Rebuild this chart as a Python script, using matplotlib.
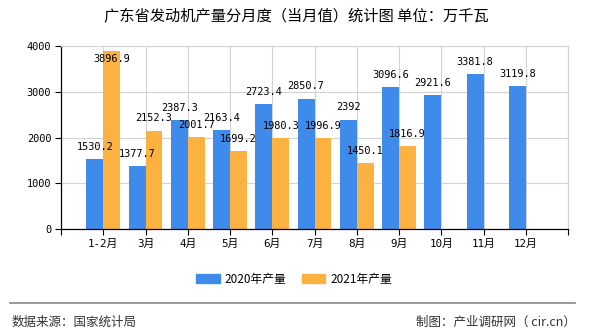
import numpy as np
import matplotlib
matplotlib.use("Agg")
import matplotlib.pyplot as plt
from matplotlib.patches import Patch

plt.rcParams['font.family'] = ['DejaVu Sans Mono', 'Noto Sans CJK SC']

# chart data
months = ['1-2月', '3月', '4月', '5月', '6月', '7月', '8月', '9月', '10月', '11月', '12月']
output_2020 = [1530.2, 1377.7, 2387.3, 2163.4, 2723.4, 2850.7, 2392, 3096.6, 2921.6, 3381.8, 3119.8]
output_2021 = [3896.9, 2152.3, 2001.7, 1699.2, 1980.3, 1996.9, 1450.1, 1816.9]
series_names = ['2020年产量', '2021年产量']
y_ticks = [0, 1000, 2000, 3000, 4000]

blue = '#3F8BEB'
orange = '#FBB241'
grid_c = '#D3D3D3'

fig = plt.figure(figsize=(5.9, 3.3), dpi=100)
ax = fig.add_axes([61 / 590, 1 - 229 / 330, 507 / 590, 183 / 330])

x = np.arange(len(months))
w = 0.4
ax.bar(x - w / 2, output_2020, width=w, color=blue, zorder=2)
x21 = np.arange(len(output_2021))
ax.bar(x21 + w / 2, output_2021, width=w, color=orange, zorder=2)


def put_labels(xs, vals):
    for xi, v in zip(xs, vals):
        ty = min(v + 265, 3720)
        lab = f'{v:g}'
        ax.text(xi, ty, lab, ha='center', va='center', fontsize=7.4,
                family=['DejaVu Sans Mono'], zorder=5)


put_labels(x - w / 2, output_2020)
put_labels(x21 + w / 2, output_2021)

ax.set_xlim(-1, len(months))
ax.set_ylim(0, 4000)
ax.set_yticks(y_ticks)
ax.set_yticklabels([str(t) for t in y_ticks], fontsize=7.4)
ax.set_xticks(np.arange(-1, len(months) + 1))
ax.set_xticklabels([''] + months + [''], fontsize=7.8)
ax.tick_params(axis='both', direction='out', length=4, width=0.8, color='black', pad=3)

ax.grid(True, color=grid_c, linewidth=0.8, zorder=0)
ax.set_axisbelow(True)
for s in ['top', 'right']:
    ax.spines[s].set_color(grid_c)
    ax.spines[s].set_linewidth(0.8)
for s in ['left', 'bottom']:
    ax.spines[s].set_color('black')
    ax.spines[s].set_linewidth(0.9)

fig.text(296 / 590, 1 - 17 / 330, '广东省发动机产量分月度（当月值）统计图 单位：万千瓦',
         ha='center', va='center', fontsize=11, family=['Noto Sans CJK SC'])

handles = [Patch(color=blue), Patch(color=orange)]
fig.legend(handles, series_names, loc='center', bbox_to_anchor=(294 / 590, 1 - 279 / 330),
           ncol=2, frameon=False, handlelength=2.0, handleheight=0.9,
           handletextpad=0.4, columnspacing=1.3, prop={'family': ['Noto Sans CJK SC'], 'size': 8.5})

fig.add_artist(plt.Line2D([10 / 590, 575 / 590], [1 - 303 / 330, 1 - 303 / 330],
                          color='#888888', linewidth=1.2))
fig.text(12 / 590, 1 - 322 / 330, '数据来源：国家统计局', ha='left', va='center',
         fontsize=9, color='#333333', family=['Noto Sans CJK SC'])
fig.text(576 / 590, 1 - 322 / 330, '制图：产业调研网（ cir.cn）', ha='right', va='center',
         fontsize=9, color='#333333', family=['Noto Sans CJK SC'])

fig.savefig('out.png', dpi=100)
